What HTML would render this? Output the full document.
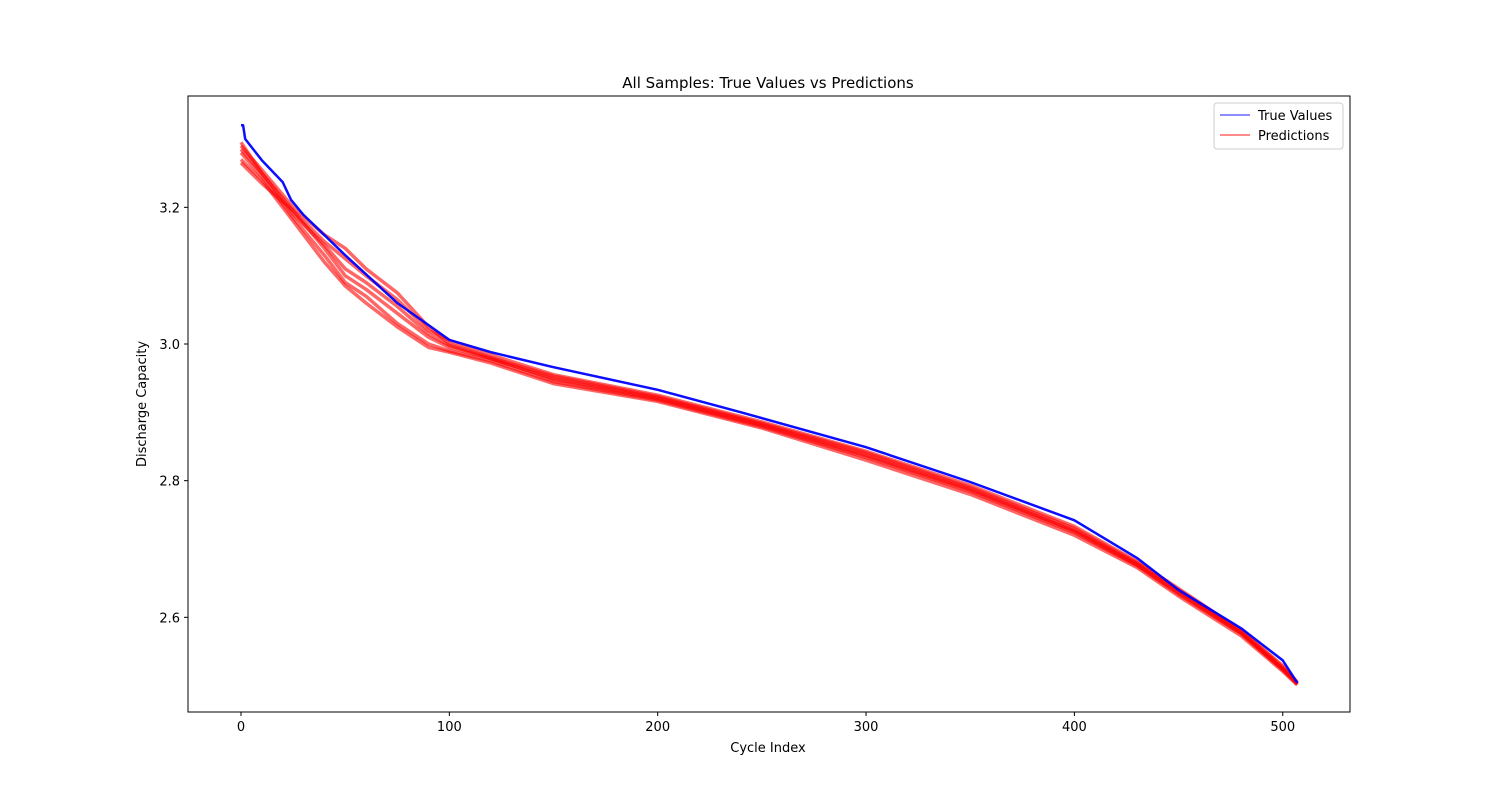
<!DOCTYPE html>
<html><head><meta charset="utf-8"><style>
body{margin:0;background:#fff;font-family:"Liberation Sans","DejaVu Sans",sans-serif;}
svg text{font-family:"DejaVu Sans","Liberation Sans",sans-serif;}
</style></head><body>
<svg id="chart" width="1500" height="800" xmlns="http://www.w3.org/2000/svg">
<rect width="1500" height="800" fill="#fff"/>
<text x="768" y="88" font-size="15" text-anchor="middle">All Samples: True Values vs Predictions</text>
<g id="plot"></g>
<rect x="188" y="96" width="1162" height="616" fill="none" stroke="#000" stroke-width="1"/>
<g id="axes"></g>
<text x="768" y="752" font-size="13" text-anchor="middle">Cycle Index</text>
<text transform="translate(146,404) rotate(-90)" font-size="13" text-anchor="middle">Discharge Capacity</text>
<g>
<rect x="1214" y="103" width="129" height="46" rx="3" fill="#fff" stroke="#ccc"/>
<line x1="1220" y1="115" x2="1250" y2="115" stroke="#0000ff" stroke-opacity="0.6" stroke-width="1.5"/>
<text x="1258" y="120" font-size="13">True Values</text>
<line x1="1220" y1="135" x2="1250" y2="135" stroke="#ff0000" stroke-opacity="0.6" stroke-width="1.5"/>
<text x="1258" y="140" font-size="13">Predictions</text>
</g>
</svg>
<script>
const xTicks=[0,100,200,300,400,500];
const yTicks=[2.6,2.8,3.0,3.2];
const yTickLabels=["2.6","2.8","3.0","3.2"];
const trueX=[0,1,2,10,20,24,30,50,75,100,120,150,200,240,300,350,400,430,450,480,500,507];
const trueY=[3.32,3.32,3.30,3.269,3.237,3.211,3.189,3.13,3.06,3.006,2.988,2.966,2.933,2.90,2.849,2.798,2.742,2.687,2.64,2.584,2.537,2.504];
const predX=[0,10,25,40,50,60,75,90,100,120,150,200,250,300,350,400,430,450,480,500,507];
const pred1=[3.295,3.25,3.195,3.15,3.125,3.10,3.065,3.02,3.005,2.984,2.955,2.925,2.886,2.843,2.793,2.733,2.682,2.642,2.581,2.529,2.505];
const pred2=[3.265,3.235,3.195,3.14,3.10,3.08,3.045,3.01,2.995,2.978,2.950,2.921,2.882,2.838,2.788,2.727,2.678,2.637,2.578,2.525,2.503];
const pred3=[3.28,3.245,3.185,3.13,3.09,3.07,3.03,3.0,2.99,2.975,2.945,2.918,2.879,2.834,2.784,2.724,2.676,2.634,2.576,2.523,2.502];
const pred4=[3.29,3.255,3.20,3.16,3.14,3.11,3.075,3.025,3.0,2.98,2.953,2.923,2.884,2.841,2.790,2.730,2.680,2.640,2.580,2.527,2.504];
const pred5=[3.27,3.24,3.18,3.12,3.085,3.06,3.025,2.995,2.988,2.972,2.942,2.916,2.877,2.830,2.780,2.720,2.673,2.631,2.573,2.521,2.501];
const pred6=[3.285,3.25,3.19,3.145,3.11,3.09,3.055,3.015,2.998,2.979,2.948,2.920,2.881,2.836,2.786,2.726,2.677,2.636,2.577,2.524,2.503];
const predSeries=[pred1,pred2,pred3,pred4,pred5,pred6];
const xS=v=>241+(v)*2.0835;
const yS=v=>344-(v-3.0)*683.3;
const NS="http://www.w3.org/2000/svg";
const plot=document.getElementById('plot'),axes=document.getElementById('axes');
function mk(t,a,p){const e=document.createElementNS(NS,t);for(const k in a)e.setAttribute(k,a[k]);p.appendChild(e);return e;}
predSeries.forEach((s,i)=>{
 const d=s.map((v,j)=>(j?'L':'M')+xS(predX[j]).toFixed(1)+','+yS(v).toFixed(1)).join('');
 const p=mk('path',{d:d,fill:'none',stroke:'#ff0000','stroke-opacity':0.6,'stroke-width':3.5,'stroke-linejoin':'round'},plot);
 
 
});
{
 const d=trueY.map((v,j)=>(j?'L':'M')+xS(trueX[j]).toFixed(1)+','+yS(v).toFixed(1)).join('');
 const p=mk('path',{d:d,fill:'none',stroke:'#0000ff','stroke-opacity':0.95,'stroke-width':2.5,'stroke-linejoin':'round'},plot);
 
 
}
xTicks.forEach(t=>{
 const x=xS(t);
 const l=mk('line',{x1:x,x2:x,y1:712,y2:716,stroke:'#000'},axes);
 
 
 const tx=mk('text',{x:x,y:731,'font-size':13,'text-anchor':'middle'},axes);tx.textContent=t;
 
 
});
yTicks.forEach((t,i)=>{
 const y=yS(t);
 const l=mk('line',{x1:184,x2:188,y1:y,y2:y,stroke:'#000'},axes);
 
 
 const tx=mk('text',{x:180,y:y+5,'font-size':13,'text-anchor':'end'},axes);tx.textContent=yTickLabels[i];
 
 
});
</script>
</body></html>
